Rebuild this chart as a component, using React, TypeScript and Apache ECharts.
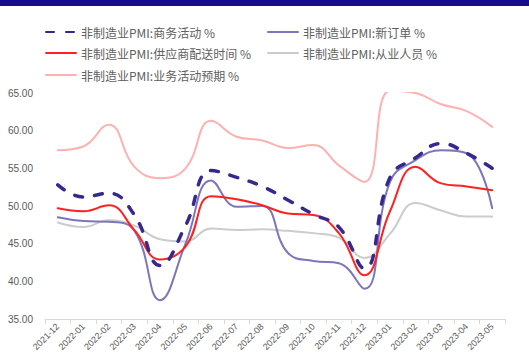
import React, { useEffect, useRef } from "react";
import * as echarts from "echarts";

// 月份
const months = [
  "2021-12", "2022-01", "2022-02", "2022-03", "2022-04", "2022-05",
  "2022-06", "2022-07", "2022-08", "2022-09", "2022-10", "2022-11",
  "2022-12", "2023-01", "2023-02", "2023-03", "2023-04", "2023-05",
];

// 非制造业PMI 分项 (%)
const businessActivity = [52.8, 51.2, 51.7, 48.8, 42.1, 47.4, 54.7, 53.8, 52.6, 50.8, 48.9, 47.2, 41.7, 53.8, 56.4, 58.3, 57.0, 55.0];
const newOrders = [48.5, 48.0, 47.9, 46.7, 37.5, 45.0, 53.4, 49.9, 50.0, 43.8, 42.7, 42.4, 39.0, 53.2, 56.1, 57.4, 57.0, 49.7];
const supplierDelivery = [49.7, 49.3, 50.1, 46.8, 42.9, 44.6, 51.3, 50.9, 50.1, 49.0, 48.8, 46.4, 40.8, 49.3, 55.2, 53.0, 52.6, 52.1];
const employment = [47.8, 47.2, 48.1, 47.4, 45.6, 45.3, 47.0, 46.8, 46.9, 46.7, 46.4, 45.8, 43.1, 46.3, 50.4, 49.4, 48.6, 48.6];
const expectations = [57.4, 57.9, 60.8, 55.2, 53.7, 55.0, 61.3, 59.2, 58.7, 57.7, 58.1, 55.4, 53.2, 65.3, 65.0, 63.5, 62.6, 60.5];

const names = [
  "非制造业PMI:商务活动 %",
  "非制造业PMI:新订单 %",
  "非制造业PMI:供应商配送时间 %",
  "非制造业PMI:从业人员 %",
  "非制造业PMI:业务活动预期 %",
];

const yTicks = { min: 35, max: 65, interval: 5 };

export default function App() {
  const ref = useRef<HTMLDivElement>(null);

  useEffect(() => {
    if (!ref.current) return;
    const chart = echarts.init(ref.current, undefined, { renderer: "svg" });

    const textStyle = {
      color: "#606060",
      fontSize: 12,
      fontFamily: "Noto Sans CJK SC, sans-serif",
    };
    // one legend entry per slot, laid out as two columns
    const legendAt = (name: string, left: number, top: number) => ({
      data: [name],
      left,
      top,
      itemWidth: 30,
      itemHeight: 12,
      itemGap: 0,
      itemStyle: { opacity: 0 },
      textStyle,
    });

    const lineSeries = (
      name: string,
      data: number[],
      color: string,
      width: number,
      extra: Record<string, unknown> = {}
    ) => ({
      name,
      type: "line",
      data,
      smooth: 0.45,
      symbol: "none",
      clip: true,
      lineStyle: { color, width, cap: "round", join: "round", ...extra },
      itemStyle: { color },
    });

    chart.setOption({
      animation: false,
      backgroundColor: "#ffffff",
      graphic: [
        {
          type: "rect",
          left: 0,
          top: 0,
          shape: { width: 529, height: 6 },
          style: { fill: "#170c8a" },
        },
      ],
      legend: [
        legendAt(names[0], 40, 21),
        legendAt(names[1], 262, 21),
        legendAt(names[2], 40, 42),
        legendAt(names[3], 262, 42),
        legendAt(names[4], 40, 64),
      ],
      grid: { left: 45, right: 24, top: 93, bottom: 41 },
      xAxis: {
        type: "category",
        data: months,
        boundaryGap: true,
        axisLine: { lineStyle: { color: "#d9d9d9", width: 1 } },
        axisTick: { show: true, length: 5, lineStyle: { color: "#d9d9d9" } },
        axisLabel: {
          rotate: 45,
          interval: 0,
          fontSize: 9,
          color: "#595959",
          margin: 6,
          fontFamily: "Liberation Sans, sans-serif",
        },
      },
      yAxis: {
        type: "value",
        min: yTicks.min,
        max: yTicks.max,
        interval: yTicks.interval,
        splitLine: { show: false },
        axisLine: { show: false },
        axisTick: { show: false },
        axisLabel: {
          fontSize: 10,
          color: "#595959",
          margin: 12,
          fontFamily: "Liberation Sans, sans-serif",
          formatter: (v: number) => v.toFixed(2),
        },
      },
      series: [
        lineSeries(names[4], expectations, "#ffb0b0", 2),
        lineSeries(names[3], employment, "#cccccc", 2),
        lineSeries(names[1], newOrders, "#7d76bb", 2),
        lineSeries(names[2], supplierDelivery, "#ff2020", 2),
        lineSeries(names[0], businessActivity, "#35288f", 3.5, {
          type: [8, 12],
        }),
      ],
    });

    return () => chart.dispose();
  }, []);

  return (
    <div
      ref={ref}
      style={{ position: "fixed", left: 0, top: 0, width: 529, height: 360 }}
    />
  );
}
